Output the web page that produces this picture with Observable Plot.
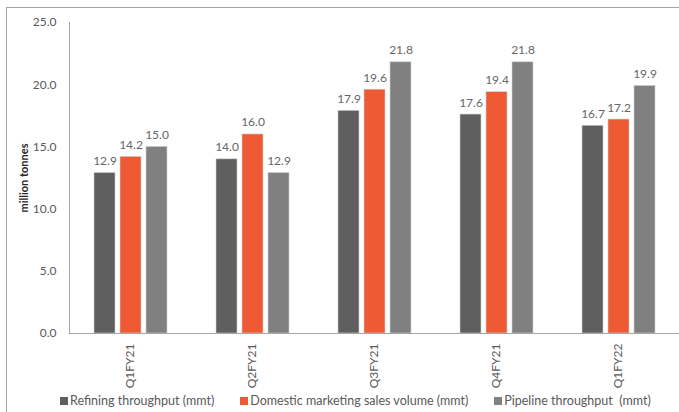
<!DOCTYPE html>
<html><head><meta charset="utf-8">
<script src="https://cdn.jsdelivr.net/npm/d3@7"></script>
<script src="https://cdn.jsdelivr.net/npm/@observablehq/plot@0.6"></script>
<style>
body{margin:0;background:#fff;font-family:Lato,"Open Sans",sans-serif;}
#wrap{position:relative;width:679px;height:412px;overflow:hidden;background:#fff;}
#border{position:absolute;left:6px;top:7px;width:700px;height:420px;border:1px solid #a6a6a6;box-sizing:border-box;}
#chart{position:absolute;left:0;top:0;}
#legend{position:absolute;left:60px;top:393px;display:flex;gap:26px;font-size:12.5px;color:#595959;line-height:16px;white-space:pre;}
.item{display:flex;align-items:center;}
.sw{width:8px;height:8px;margin-right:2px;}
g[aria-label="y-axis label"] text{font-weight:bold;font-size:11px;fill:#262626;}
</style>
</head><body>
<div id="wrap"><div id="border"></div><div id="chart"></div><div id="legend"></div></div>
<script>
const quarters = ["Q1FY21", "Q2FY21", "Q3FY21", "Q4FY21", "Q1FY22"];
const seriesNames = ["Refining throughput (mmt)", "Domestic marketing sales volume (mmt)", "Pipeline throughput  (mmt)"];
const refining = [12.9, 14.0, 17.9, 17.6, 16.7];
const marketing = [14.2, 16.0, 19.6, 19.4, 17.2];
const pipeline = [15.0, 12.9, 21.8, 21.8, 19.9];
const colors = ["#5f5f5f", "#ee5a33", "#808080"];
const yTicks = [0, 5, 10, 15, 20, 25];

const seriesValues = [refining, marketing, pipeline];
const data = [];
quarters.forEach((q, i) => seriesNames.forEach((s, j) => data.push({quarter: q, series: s, value: seriesValues[j][i]})));

const fmt = d3.format(".1f");
const chart = Plot.plot({
  width: 679, height: 388,
  marginLeft: 69, marginRight: 0, marginTop: 22, marginBottom: 55,
  style: {fontFamily: "Lato, 'Open Sans', sans-serif", background: "transparent"},
  fx: {domain: quarters, padding: 0, label: null, tickSize: 0, tickPadding: 10, tickRotate: -90},
  x: {domain: seriesNames, paddingInner: 0.2, paddingOuter: 0.885, axis: null},
  y: {domain: [0, 25], ticks: yTicks, tickFormat: fmt, tickSize: 0, tickPadding: 13, label: "million tonnes", labelAnchor: "center", labelOffset: 49, labelArrow: false},
  color: {domain: seriesNames, range: colors},
  marks: [
    Plot.barY(data, {fx: "quarter", x: "series", y: "value", fill: "series", stroke: "#d0d0d0", strokeWidth: 0.6}),
    Plot.text(data, {fx: "quarter", x: "series", y: "value", text: d => fmt(d.value), lineAnchor: "bottom", dy: -8, fill: "#666666", fontSize: 12}),
    Plot.ruleY([0], {stroke: "#a6a6a6"}),
    Plot.frame({anchor: "left", facet: "super", stroke: "#a6a6a6"})
  ]
});
document.getElementById("chart").appendChild(chart);
chart.querySelectorAll('g[aria-label="y-axis tick label"], g[aria-label="fx-axis tick label"]').forEach(g => { g.setAttribute("fill", "#595959"); g.setAttribute("font-size", "12"); });

const legend = document.getElementById("legend");
seriesNames.forEach((s, j) => {
  const it = document.createElement("div"); it.className = "item";
  const sw = document.createElement("span"); sw.className = "sw"; sw.style.background = colors[j];
  const t = document.createElement("span"); t.textContent = s;
  it.appendChild(sw); it.appendChild(t); legend.appendChild(it);
});
</script>
</body></html>
